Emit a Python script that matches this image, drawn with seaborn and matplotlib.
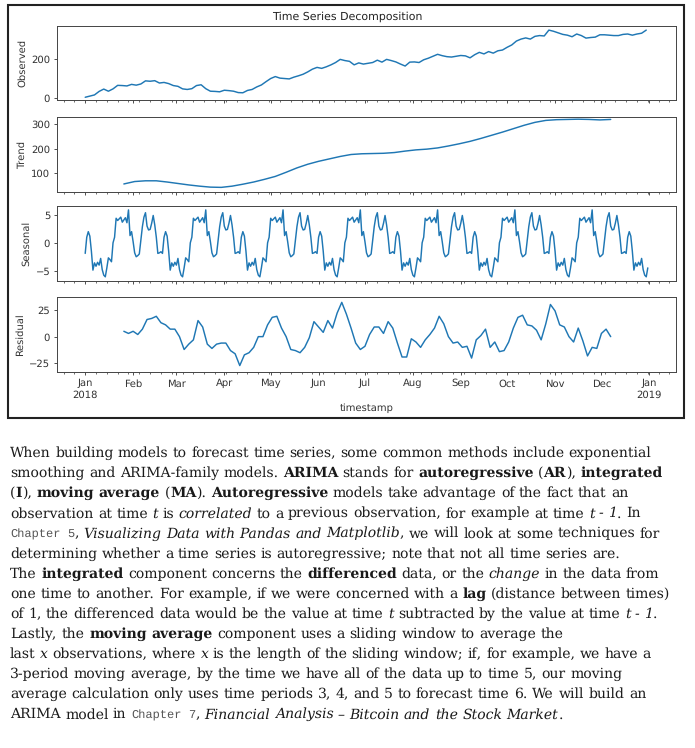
import re
import numpy as np
import pandas as pd
import matplotlib
matplotlib.use('Agg')
import matplotlib.pyplot as plt
import matplotlib.dates as mdates
from matplotlib.patches import Rectangle
from matplotlib.transforms import IdentityTransform
from matplotlib.font_manager import FontProperties, findfont, get_font
import seaborn as sns

# values
# observed: one value every 3 days from 2018-01-01
observed = [2, 8, 14, 32, 44, 33, 45, 63, 62, 60,
            68, 64, 70, 86, 84, 87, 75, 78, 72, 62,
            58, 45, 42, 46, 62, 66, 46, 33, 32, 30,
            38, 36, 33, 26, 25, 37, 42, 55, 65, 82,
            98, 108, 100, 98, 96, 105, 112, 120, 132, 146,
            155, 150, 158, 168, 180, 196, 190, 186, 168, 178,
            172, 176, 180, 192, 182, 196, 190, 183, 172, 162,
            182, 183, 180, 194, 202, 212, 222, 215, 210, 208,
            212, 216, 214, 204, 220, 232, 224, 236, 228, 240,
            244, 258, 270, 290, 300, 306, 300, 314, 318, 316,
            346, 340, 332, 324, 320, 312, 326, 318, 305, 308,
            310, 322, 322, 320, 318, 318, 324, 326, 320, 326,
            330, 346]

# trend: one value every 7 days from 2018-01-26
trend = [55, 65, 68, 68, 63, 57, 51, 46, 42, 41,
         46, 54, 63, 74, 86, 103, 121, 136, 148, 158,
         168, 176, 179, 180, 181, 184, 190, 195, 198, 203,
         211, 220, 230, 242, 255, 268, 282, 296, 308, 316,
         319, 320, 321, 320, 318, 320]

# seasonal: one 50-day cycle, daily values
seasonal_cycle = [-1.9, 1.0, 2.0, 1.2, -1.5, -4.9, -3.6, -4.2, -3.5, -4.0,
                  -2.8, -4.8, -5.8, -6.1, -4.5, -2.7, -3.0, -3.4, 0.0, 1.0,
                  4.4, 4.0, 4.3, 4.6, 3.7, 4.1, 4.5, 3.6, 5.9, 1.3,
                  2.0, 0.2, -1.8, -2.5, -2.3, -2.0, 0.5, 2.9, 4.6, 5.4,
                  3.0, 2.3, 2.4, 3.5, 4.9, 3.2, 1.0, -1.9, -1.8, -1.6]

# residual: one value every 3 days from 2018-01-26
residual = [5, 3, 5, 2, 7, 16, 17, 19, 13, 11,
            7, 7, 0, -12, -7, -3, 15, 9, -7, -11,
            -7, -6, -6, -13, -16, -27, -17, -15, -10, 0,
            0, 11, 18, 19, 8, 0, -12, -13, -15, -10,
            -1, 14, 9, 4, 15, 8, 22, 32, 21, 8,
            -6, -12, -9, 2, 9, 9, 3, 14, 8, -6,
            -19, -19, -2, -5, -10, -3, 2, 8, 19, 12,
            0, -6, -5, -10, -9, -20, -3, 1, 7, -10,
            -5, -14, -13, -5, 8, 18, 20, 11, 10, 6,
            -3, 12, 30, 24, 11, 9, 0, -5, 8, -4,
            -18, -10, -11, 3, 7, 0]

obs_dates = pd.date_range('2018-01-01', periods=len(observed), freq='3D')
trend_dates = pd.date_range('2018-01-26', periods=len(trend), freq='7D')
day_dates = pd.date_range('2018-01-01', '2018-12-31', freq='D')
seasonal = np.tile(seasonal_cycle, 8)[:len(day_dates)]
resid_dates = pd.date_range('2018-01-26', periods=len(residual), freq='3D')

sns.set_style('ticks')
plt.rcParams['font.family'] = ['DejaVu Sans']
plt.rcParams['text.hinting'] = 'no_hinting'
plt.rcParams['text.hinting_factor'] = 1

W, H = 695, 748
fig = plt.figure(figsize=(W / 100, H / 100), dpi=100)

# panel boxes in pixels (top, bottom) of the reference
panels = [
    ('Observed', obs_dates, observed, (26, 100), (-12, 367), [0, 200]),
    ('Trend', trend_dates, trend, (117, 192), (22, 330), [100, 200, 300]),
    ('Seasonal', day_dates, seasonal, (206, 281), (-6.85, 6.6), [-5, 0, 5]),
    ('Residual', resid_dates, residual, (297, 372), (-33, 37), [-25, 0, 25]),
]

left, right = 57, 676
axes = []
for i, (name, dates, vals, (top, bot), ylim, yticks) in enumerate(panels):
    ax = fig.add_axes([left / W, (H - bot) / H, (right - left) / W, (bot - top) / H],
                      sharex=axes[0] if axes else None)
    sns.lineplot(x=dates, y=vals, ax=ax, color='#1f77b4', linewidth=1.05)
    ax.set_ylim(*ylim)
    ax.set_yticks(yticks)
    ax.set_ylabel(name, fontsize=6.9, color='#333333', labelpad=3)
    ax.set_xlabel('')
    for sp in ax.spines.values():
        sp.set_color('#444444')
        sp.set_linewidth(0.7)
    ax.tick_params(which='major', direction='out', length=2.5, width=0.6,
                   labelsize=6.9, pad=2.4, colors='#333333')
    ax.tick_params(which='minor', direction='out', length=1.5, width=0.5,
                   colors='#333333')
    axes.append(ax)

ax = axes[-1]
ax.set_xlim(pd.Timestamp('2017-12-13 18:00'), pd.Timestamp('2019-01-18 06:00'))
ax.xaxis.set_major_locator(mdates.MonthLocator())
ax.xaxis.set_minor_locator(mdates.WeekdayLocator(byweekday=mdates.MO))


def month_label(x, pos):
    d = mdates.num2date(x)
    if d.month == 1:
        return d.strftime('%b\n%Y')
    return d.strftime('%b')


ax.xaxis.set_major_formatter(plt.FuncFormatter(month_label))
for a in axes[:-1]:
    a.tick_params(axis='x', which='both', labelbottom=False)
ax.set_xlabel('timestamp', fontsize=6.9, color='#333333', labelpad=2.5)

fig.suptitle('Time Series Decomposition', x=347 / W, y=1 - 17 / H,
             va='center', fontsize=8.2, color='#222222')

# frame around the chart
fig.patches.append(Rectangle((8 / W, (H - 418) / H), 676 / W, 413 / H,
                             transform=fig.transFigure, fill=False,
                             edgecolor='#222222', linewidth=1.5))

# paragraph under the chart: r regular, b bold, i italic, m code
para = [
    [('r', 'When building models to forecast time series, some common methods include exponential')],
    [('r', 'smoothing and ARIMA-family models. '), ('b', 'ARIMA'), ('r', ' stands for '),
     ('b', 'autoregressive'), ('r', ' ('), ('b', 'AR'), ('r', '), '), ('b', 'integrated')],
    [('r', '('), ('b', 'I'), ('r', '), '), ('b', 'moving average'), ('r', ' ('), ('b', 'MA'),
     ('r', '). '), ('b', 'Autoregressive'), ('r', ' models take advantage of the fact that an')],
    [('r', 'observation at time '), ('i', 't'), ('r', ' is '), ('i', 'correlated'),
     ('r', ' to a previous observation, for example at time '), ('i', 't - 1'), ('r', '. In')],
    [('m', 'Chapter 5'), ('r', ', '), ('i', 'Visualizing Data with Pandas and Matplotlib'),
     ('r', ', we will look at some techniques for')],
    [('r', 'determining whether a time series is autoregressive; note that not all time series are.')],
    [('r', 'The '), ('b', 'integrated'), ('r', ' component concerns the '), ('b', 'differenced'),
     ('r', ' data, or the '), ('i', 'change'), ('r', ' in the data from')],
    [('r', 'one time to another. For example, if we were concerned with a '), ('b', 'lag'),
     ('r', ' (distance between times)')],
    [('r', 'of 1, the differenced data would be the value at time '), ('i', 't'),
     ('r', ' subtracted by the value at time '), ('i', 't - 1'), ('r', '.')],
    [('r', 'Lastly, the '), ('b', 'moving average'),
     ('r', ' component uses a sliding window to average the')],
    [('r', 'last '), ('i', 'x'), ('r', ' observations, where '), ('i', 'x'),
     ('r', ' is the length of the sliding window; if, for example, we have a')],
    [('r', '3-period moving average, by the time we have all of the data up to time 5, our moving')],
    [('r', 'average calculation only uses time periods 3, 4, and 5 to forecast time 6. We will build an')],
    [('r', 'ARIMA model in '), ('m', 'Chapter 7'), ('r', ', '),
     ('i', 'Financial Analysis \u2013 Bitcoin and the Stock Market'), ('r', '.')],
]

props = {
    'r': FontProperties(family='DejaVu Serif'),
    'b': FontProperties(family='DejaVu Serif', weight='bold'),
    'i': FontProperties(family='DejaVu Serif', style='italic'),
    'm': FontProperties(family='Liberation Mono'),
}
colors = {'r': '#1a1a1a', 'b': '#1a1a1a', 'i': '#1a1a1a', 'm': '#555555'}
MONO_SIZE = 8.9


def advance(s, kind, size):
    # pen advance of a string in pixels, from the font's own glyph metrics
    font = get_font(findfont(props[kind]))
    font.set_size(size, 100)
    return sum(font.load_char(ord(c)).linearHoriAdvance for c in s) / 65536


def lay_line(frags, x, y, fs, draw=True):
    for kind, s in frags:
        size = MONO_SIZE if kind == 'm' else fs
        for part in re.split(r'( )', s):
            if part == '':
                continue
            if part != ' ' and draw:
                fig.text(x, y, part, transform=IdentityTransform(), fontproperties=props[kind],
                         fontsize=size, color=colors[kind], va='baseline')
            x += advance(part, kind, size)
    return x


# size the serif text so the widest line spans the same width as in the reference
fs = 12 * 670 / lay_line(para[7], 0, 0, 12, draw=False)

for i, frags in enumerate(para):
    lay_line(frags, 10, H - (457 + 20.1 * i), fs)

fig.savefig('out.png', dpi=100)
